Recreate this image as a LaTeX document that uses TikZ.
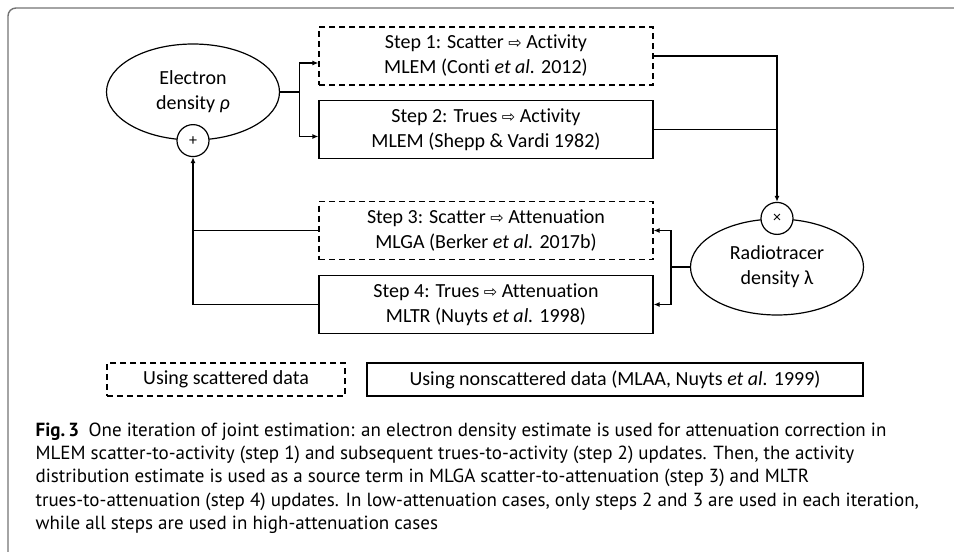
\documentclass[tikz,border=0pt]{standalone}
\usepackage{fontspec}
\setmainfont{Carlito}[Ligatures=NoCommon]
\newfontfamily\capfont{PT Sans}
\newfontfamily\arrowfont{DejaVu Sans}
\usetikzlibrary{arrows.meta}
\usetikzlibrary{calc}
\usetikzlibrary{shapes.geometric}

\newcommand{\thento}{{\arrowfont\fontsize{16}{16}\selectfont ⇨}}

\begin{document}
\begin{tikzpicture}[x=1pt, y=-1pt, line width=1.2pt,
    >={Latex[length=6pt,width=5pt]},
    dashbox/.style={dash pattern=on 6pt off 4pt},
    stepbox/.style={draw, minimum width=334pt, minimum height=58pt,
      align=center, font=\fontsize{20}{25}\selectfont},
    density/.style={draw, ellipse, minimum width=173pt, minimum height=96pt,
      inner sep=0pt, align=center, font=\fontsize{20}{25}\selectfont},
    opnode/.style={draw, circle, fill=white, minimum size=32pt, inner sep=0pt,
      font=\fontsize{16}{16}\selectfont},
    legbox/.style={draw, minimum height=33pt, font=\fontsize{20}{25}\selectfont}]

    \useasboundingbox (0,0) rectangle (954,552);
    % frame
    \draw [black!55, line width=1.4pt, rounded corners=8pt]
      (8,556) -- (8,8) -- (958,8);

    % densities
    \node [density] (rho) at (193,92) {Electron\\density \textit{ρ}};
    \node [opnode] (plus) at (rho.south) {+};
    \node [density] (lambda) at (777,267) {Radiotracer\\density λ};
    \node [opnode] (times) at (lambda.north) {×};

    % update steps
    \node [stepbox, dashbox] (s1) at (486,56)
      {Step 1: Scatter \thento\ Activity\\MLEM (Conti \textit{et al.} 2012)};
    \node [stepbox] (s2) at (486,129.5)
      {Step 2: Trues \thento\ Activity\\MLEM (Shepp \& Vardi 1982)};
    \node [stepbox, dashbox] (s3) at (486,230.5)
      {Step 3: Scatter \thento\ Attenuation\\MLGA (Berker \textit{et al.} 2017b)};
    \node [stepbox] (s4) at (486,304.5)
      {Step 4: Trues \thento\ Attenuation\\MLTR (Nuyts \textit{et al.} 1998)};

    % connectors
    \coordinate (split1) at ($(rho.east)+(19,0)$);
    \coordinate (split2) at ($(lambda.west)+(-19,0)$);
    \draw (rho.east) -- (split1);
    \draw [->] (split1) |- ([yshift=-7pt]s1.west);
    \draw [->] (split1) |- ([yshift=-7pt]s2.west);
    \draw [->] (s1.east) -| (times.north);
    \draw (s2.east) -- (s2.east -| times.north);
    \draw (lambda.west) -- (split2);
    \draw [->] (split2) |- (s3.east);
    \draw [->] (split2) |- (s4.east);
    \draw (s3.west) -- (s3.west -| plus.south);
    \draw [->] (s4.west) -| (plus.south);

    % legend
    \node [legbox, dashbox, minimum width=238pt] (legs) at (226,379.5)
      {Using scattered data};
    \node [legbox, minimum width=496pt] (legn) at (615,379.5)
      {Using nonscattered data (MLAA, Nuyts \textit{et al.} 1999)};

    % caption
    \node [anchor=north west, inner sep=0pt, align=left,
      font=\capfont\fontsize{19}{23.3}\selectfont] (cap) at (35,422)
      {\textbf{Fig.\,3}\enskip One iteration of joint estimation: an electron density estimate is used for attenuation correction in\\
       MLEM scatter-to-activity (step 1) and subsequent trues-to-activity (step 2) updates. Then, the activity\\
       distribution estimate is used as a source term in MLGA scatter-to-attenuation (step 3) and MLTR\\
       trues-to-attenuation (step 4) updates. In low-attenuation cases, only steps 2 and 3 are used in each iteration,\\
       while all steps are used in high-attenuation cases};

  \end{tikzpicture}
\end{document}
